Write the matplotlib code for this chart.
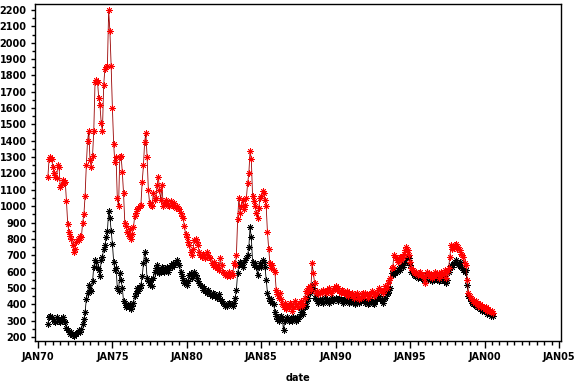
import datetime as dt

import matplotlib
matplotlib.use("Agg")
import matplotlib.dates as mdates
import matplotlib.pyplot as plt
import pandas as pd
from matplotlib.ticker import FuncFormatter, MultipleLocator

# monthly values, first month Sep 1970
start_month = "1970-09-01"

red_values = [
    1180, 1290, 1300, 1290,
    1240, 1200, 1180, 1170, 1250, 1240, 1120, 1130, 1160, 1140, 1150, 1030,
    890, 840, 820, 800, 760, 720, 740, 780, 800, 790, 820, 810,
    900, 950, 1060, 1250, 1400, 1460, 1280, 1240, 1310, 1460, 1760, 1770,
    1760, 1660, 1620, 1510, 1460, 1740, 1840, 1850, 1860, 2200, 2070, 1860,
    1600, 1380, 1270, 1300, 1050, 1000, 1300, 1310, 1210, 1080, 900, 880,
    840, 820, 860, 800, 830, 870, 940, 960, 980, 990, 1000, 1010,
    1150, 1250, 1390, 1450, 1300, 1100, 1020, 1010, 1000, 1080, 1040, 1050,
    1130, 1180, 1100, 1040, 1130, 1000, 1020, 1040, 1020, 1010, 1000, 1030,
    1010, 1000, 1020, 990, 1000, 990, 985, 960, 940, 930, 880, 830,
    810, 780, 760, 720, 700, 740, 790, 800, 780, 760, 720, 700,
    690, 710, 700, 680, 720, 700, 690, 680, 650, 640, 660, 630,
    620, 640, 610, 680, 640, 600, 590, 580, 570, 580, 600, 570,
    590, 580, 650, 640, 700, 920, 1050, 960, 1000, 1040, 980, 1010,
    1050, 1140, 1200, 1340, 1290, 1060, 1030, 1000, 960, 930, 990, 1050,
    1060, 1090, 1080, 1040, 1000, 840, 740, 650, 620, 640, 610, 600,
    490, 460, 440, 470, 430, 400, 380, 410, 370, 390, 380, 410,
    400, 360, 380, 420, 400, 390, 380, 410, 420, 390, 400, 440,
    480, 470, 500, 510, 490, 650, 590, 530, 470, 480, 460, 470,
    480, 470, 490, 480, 470, 490, 480, 500, 470, 480, 490, 500,
    510, 490, 500, 480, 470, 490, 480, 470, 460, 480, 450, 470,
    460, 470, 450, 440, 460, 470, 450, 430, 440, 460, 470, 450,
    470, 460, 440, 450, 460, 480, 470, 450, 460, 470, 490, 500,
    490, 480, 470, 490, 510, 500, 530, 550, 560, 620, 630, 700,
    690, 670, 660, 680, 690, 670, 690, 710, 730, 750, 730, 700,
    660, 620, 610, 600, 590, 600, 580, 590, 600, 580, 570, 560,
    530, 580, 600, 590, 570, 580, 560, 570, 600, 580, 590, 560,
    570, 600, 580, 590, 610, 560, 600, 620, 690, 760, 740, 750,
    760, 770, 740, 750, 730, 710, 700, 690, 650, 640, 550, 470,
    450, 440, 430, 420, 410, 420, 400, 390, 400, 380, 390, 380,
    370, 380, 360, 370, 360, 350, 360, 345,
]

black_values = [
    280, 320, 330, 320,
    310, 300, 290, 320, 310, 300, 290, 310, 320, 300, 290, 255,
    240, 230, 220, 230, 210, 205, 220, 215, 230, 240, 230, 250,
    280, 310, 350, 430, 470, 520, 490, 480, 540, 630, 670, 660,
    620, 610, 570, 670, 690, 740, 760, 810, 850, 970, 930, 850,
    770, 660, 610, 620, 500, 480, 590, 550, 500, 420, 410, 380,
    390, 380, 400, 370, 390, 410, 450, 470, 500, 480, 500, 520,
    570, 650, 720, 670, 560, 540, 520, 550, 510, 560, 600, 620,
    640, 610, 590, 600, 630, 620, 600, 610, 630, 600, 620, 640,
    630, 650, 640, 660, 670, 650, 640, 600, 570, 550, 530, 540,
    520, 540, 580, 590, 560, 570, 600, 580, 560, 540, 530, 520,
    510, 490, 500, 480, 470, 490, 470, 460, 450, 470, 460, 450,
    440, 450, 460, 430, 420, 410, 400, 390, 390, 400, 410, 400,
    400, 390, 410, 440, 490, 590, 640, 660, 650, 630, 660, 670,
    680, 700, 750, 870, 810, 660, 640, 650, 630, 580, 630, 650,
    630, 670, 660, 630, 550, 470, 440, 420, 430, 410, 400, 350,
    330, 310, 300, 320, 330, 310, 240, 300, 310, 320, 300, 310,
    310, 300, 320, 310, 300, 320, 310, 330, 350, 370, 340, 380,
    390, 420, 440, 470, 480, 520, 500, 440, 430, 420, 410, 430,
    420, 430, 410, 440, 420, 430, 420, 410, 430, 440, 420, 430,
    440, 430, 420, 440, 430, 420, 410, 430, 420, 440, 430, 410,
    420, 430, 410, 420, 400, 420, 430, 410, 420, 440, 430, 420,
    410, 420, 400, 410, 430, 420, 410, 400, 420, 430, 440, 450,
    430, 420, 410, 430, 440, 460, 470, 490, 500, 590, 580, 600,
    590, 600, 610, 620, 610, 640, 630, 650, 660, 680, 690, 680,
    640, 600, 590, 580, 570, 580, 560, 570, 580, 560, 570, 550,
    540, 560, 580, 570, 550, 560, 540, 550, 570, 560, 550, 540,
    550, 570, 560, 540, 560, 530, 550, 600, 620, 640, 630, 650,
    660, 670, 650, 640, 660, 630, 620, 610, 600, 610, 520, 450,
    440, 420, 410, 400, 410, 390, 380, 390, 370, 380, 360, 370,
    360, 350, 340, 350, 340, 330, 340, 330,
]


def main():
    dates = pd.date_range(start_month, periods=len(red_values), freq="MS")

    fig = plt.figure(figsize=(5.76, 3.83), dpi=100)
    ax = fig.add_axes([35 / 576, 1 - 341 / 383, 526 / 576, 337 / 383])

    star = (8, 2, 0)
    ax.plot(dates, black_values, color="black", linewidth=0.6,
            marker=star, markersize=4.5, markeredgewidth=0.6)
    ax.plot(dates, red_values, color="#990000", linewidth=0.6,
            marker=star, markersize=4.5, markeredgewidth=0.6,
            markeredgecolor="red", markerfacecolor="red")

    ax.set_xlim(dt.datetime(1969, 10, 20), dt.datetime(2005, 2, 18))
    ax.set_ylim(175, 2237)

    ax.xaxis.set_major_locator(mdates.YearLocator(5))
    ax.xaxis.set_major_formatter(
        FuncFormatter(lambda v, p: mdates.num2date(v).strftime("%b%y").upper()))
    ax.xaxis.set_minor_locator(mdates.MonthLocator(bymonth=[1, 7]))
    ax.yaxis.set_major_locator(MultipleLocator(100))
    ax.yaxis.set_minor_locator(MultipleLocator(50))

    ax.tick_params(axis="both", which="major", direction="out", labelsize=7,
                   width=1, colors="black")
    ax.tick_params(axis="x", which="major", length=5, pad=3)
    ax.tick_params(axis="x", which="minor", length=3, width=1)
    ax.tick_params(axis="y", which="major", length=3, pad=3)
    ax.tick_params(axis="y", which="minor", length=2, width=1)
    for lab in ax.get_xticklabels() + ax.get_yticklabels():
        lab.set_fontweight("bold")

    for sp in ax.spines.values():
        sp.set_linewidth(1.0)

    ax.set_xlabel("date", fontsize=7, fontweight="bold", labelpad=8)

    fig.savefig("out.png", dpi=100)
    plt.close(fig)


if __name__ == "__main__":
    main()
